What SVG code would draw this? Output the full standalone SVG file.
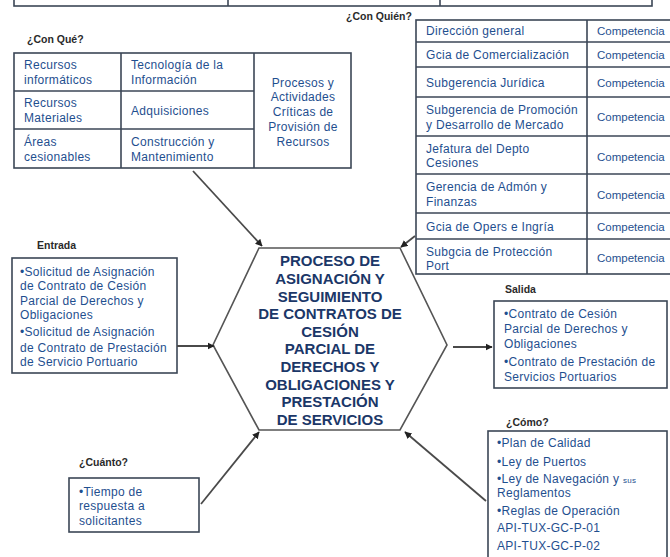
<svg xmlns="http://www.w3.org/2000/svg" width="670" height="557" viewBox="0 0 670 557">
<defs>
<style>
.box{fill:#fff;stroke:#3b4656;stroke-width:1.6}
.t{font-family:"Liberation Sans",Arial,sans-serif;font-size:12px;letter-spacing:0.3px;fill:#1f4f8f}
.cp{font-family:"Liberation Sans",Arial,sans-serif;font-size:11.5px;fill:#1f4f8f}
.tc{font-family:"Liberation Sans",Arial,sans-serif;font-size:12px;letter-spacing:0.3px;fill:#1f4f8f;text-anchor:middle}
.lbl{font-family:"Liberation Sans",Arial,sans-serif;font-size:10.5px;font-weight:bold;fill:#2a2a2a}
.hx{font-family:"Liberation Sans",Arial,sans-serif;font-size:15px;font-weight:bold;fill:#1b3768;text-anchor:middle}
.c{stroke:#4a4a4a;stroke-width:1.8;fill:none}
</style>
<marker id="ah" viewBox="0 0 10 10" refX="9" refY="5" markerWidth="4" markerHeight="4" orient="auto">
<path d="M0,0 L10,5 L0,10 z" fill="#222"/>
</marker>
</defs>
<rect width="670" height="557" fill="#fff"/>

<g id="top-table">
<rect class="box" x="14" y="-10" width="638" height="16"/>
<line class="box" x1="228" y1="-10" x2="228" y2="6"/>
<line class="box" x1="440" y1="-10" x2="440" y2="6"/>
</g>

<g id="con-que">
<text class="lbl" x="27" y="43">¿Con Qué?</text>
<rect class="box" x="14" y="53" width="337" height="115"/>
<line class="box" x1="14" y1="91" x2="254" y2="91"/>
<line class="box" x1="14" y1="129" x2="254" y2="129"/>
<line class="box" x1="121" y1="53" x2="121" y2="168"/>
<line class="box" x1="254" y1="53" x2="254" y2="168"/>
<text class="t" x="24" y="69">Recursos</text>
<text class="t" x="24" y="84">informáticos</text>
<text class="t" x="24" y="107">Recursos</text>
<text class="t" x="24" y="122">Materiales</text>
<text class="t" x="24" y="146">Áreas</text>
<text class="t" x="24" y="161">cesionables</text>
<text class="t" x="131" y="69">Tecnología de la</text>
<text class="t" x="131" y="84">Información</text>
<text class="t" x="131" y="115">Adquisiciones</text>
<text class="t" x="131" y="146">Construcción y</text>
<text class="t" x="131" y="161">Mantenimiento</text>
<text class="tc" x="303" y="87">Procesos y</text>
<text class="tc" x="303" y="101">Actividades</text>
<text class="tc" x="303" y="116">Críticas de</text>
<text class="tc" x="303" y="131">Provisión de</text>
<text class="tc" x="303" y="146">Recursos</text>
</g>

<g id="con-quien">
<text class="lbl" x="346" y="20">¿Con Quién?</text>
<rect class="box" x="416" y="20" width="260" height="254"/>
<line class="box" x1="587" y1="20" x2="587" y2="274"/>
<line class="box" x1="416" y1="42" x2="676" y2="42"/>
<line class="box" x1="416" y1="67" x2="676" y2="67"/>
<line class="box" x1="416" y1="97" x2="676" y2="97"/>
<line class="box" x1="416" y1="136" x2="676" y2="136"/>
<line class="box" x1="416" y1="174" x2="676" y2="174"/>
<line class="box" x1="416" y1="213" x2="676" y2="213"/>
<line class="box" x1="416" y1="239" x2="676" y2="239"/>
<text class="t" x="426" y="35">Dirección general</text>
<text class="t" x="426" y="59">Gcia  de Comercialización</text>
<text class="t" x="426" y="87">Subgerencia Jurídica</text>
<text class="t" x="426" y="114">Subgerencia de Promoción</text>
<text class="t" x="426" y="129">y Desarrollo de Mercado</text>
<text class="t" x="426" y="153">Jefatura del Depto</text>
<text class="t" x="426" y="167">Cesiones</text>
<text class="t" x="426" y="191">Gerencia de Admón  y</text>
<text class="t" x="426" y="206">Finanzas</text>
<text class="t" x="426" y="231">Gcia  de Opers  e Ingría</text>
<text class="t" x="426" y="256">Subgcia de Protección</text>
<text class="t" x="426" y="270">Port</text>
<text class="cp" x="597" y="35">Competencia</text>
<text class="cp" x="597" y="59">Competencia</text>
<text class="cp" x="597" y="87">Competencia</text>
<text class="cp" x="597" y="121">Competencia</text>
<text class="cp" x="597" y="161">Competencia</text>
<text class="cp" x="597" y="199">Competencia</text>
<text class="cp" x="597" y="231">Competencia</text>
<text class="cp" x="597" y="262">Competencia</text>
</g>

<g id="proceso">
<polygon points="259,248 400,248 447,345 400,430 259,430 213,345" fill="#fff" stroke="#555" stroke-width="1.6"/>
<text class="hx" x="330" y="266">PROCESO DE</text>
<text class="hx" x="330" y="283.5">ASIGNACIÓN Y</text>
<text class="hx" x="330" y="301.5">SEGUIMIENTO</text>
<text class="hx" x="330" y="319">DE  CONTRATOS DE</text>
<text class="hx" x="330" y="336.5">CESIÓN</text>
<text class="hx" x="330" y="354">PARCIAL DE</text>
<text class="hx" x="330" y="371.5">DERECHOS Y</text>
<text class="hx" x="330" y="389.5">OBLIGACIONES Y</text>
<text class="hx" x="330" y="407">PRESTACIÓN</text>
<text class="hx" x="330" y="425">DE SERVICIOS</text>
</g>

<g id="entrada">
<text class="lbl" x="37" y="249">Entrada</text>
<rect class="box" x="12" y="258" width="165" height="115"/>
<text class="t" x="20" y="276">•Solicitud de Asignación</text>
<text class="t" x="20" y="290">de Contrato de Cesión</text>
<text class="t" x="20" y="305">Parcial de Derechos y</text>
<text class="t" x="20" y="319">Obligaciones</text>
<text class="t" x="20" y="336">•Solicitud de Asignación</text>
<text class="t" x="20" y="352">de Contrato de Prestación</text>
<text class="t" x="20" y="366">de Servicio Portuario</text>
</g>

<g id="salida">
<text class="lbl" x="505" y="293">Salida</text>
<rect class="box" x="494" y="301" width="173" height="87"/>
<text class="t" x="504" y="318">•Contrato de Cesión</text>
<text class="t" x="504" y="333">Parcial de Derechos y</text>
<text class="t" x="504" y="348">Obligaciones</text>
<text class="t" x="504" y="366">•Contrato de Prestación de</text>
<text class="t" x="504" y="381">Servicios Portuarios</text>
</g>

<g id="como">
<text class="lbl" x="506" y="426">¿Cómo?</text>
<rect class="box" x="488" y="431" width="179" height="140"/>
<text class="t" x="497" y="447">•Plan de Calidad</text>
<text class="t" x="497" y="466">•Ley de Puertos</text>
<text class="t" x="497" y="483">•Ley de Navegación  y <tspan font-size="8">sus</tspan></text>
<text class="t" x="497" y="497">Reglamentos</text>
<text class="t" x="497" y="515">•Reglas de Operación</text>
<text class="t" x="497" y="532">API-TUX-GC-P-01</text>
<text class="t" x="497" y="550">API-TUX-GC-P-02</text>
</g>

<g id="cuanto">
<text class="lbl" x="79" y="466">¿Cuánto?</text>
<rect class="box" x="69" y="478" width="130" height="54"/>
<text class="t" x="79" y="496">•Tiempo de</text>
<text class="t" x="79" y="510">respuesta a</text>
<text class="t" x="79" y="525">solicitantes</text>
</g>

<g id="connectors">
<line class="c" x1="193" y1="171" x2="262" y2="246" marker-end="url(#ah)"/>
<line class="c" x1="415" y1="236" x2="401" y2="247" marker-end="url(#ah)"/>
<line class="c" x1="177" y1="346" x2="214" y2="346" marker-end="url(#ah)"/>
<line class="c" x1="453" y1="347" x2="492" y2="347" marker-end="url(#ah)" stroke="#222" stroke-width="1.2"/>
<line class="c" x1="486" y1="501" x2="405" y2="432" marker-end="url(#ah)"/>
<line class="c" x1="201" y1="504" x2="259" y2="432" marker-end="url(#ah)"/>
</g>
</svg>
